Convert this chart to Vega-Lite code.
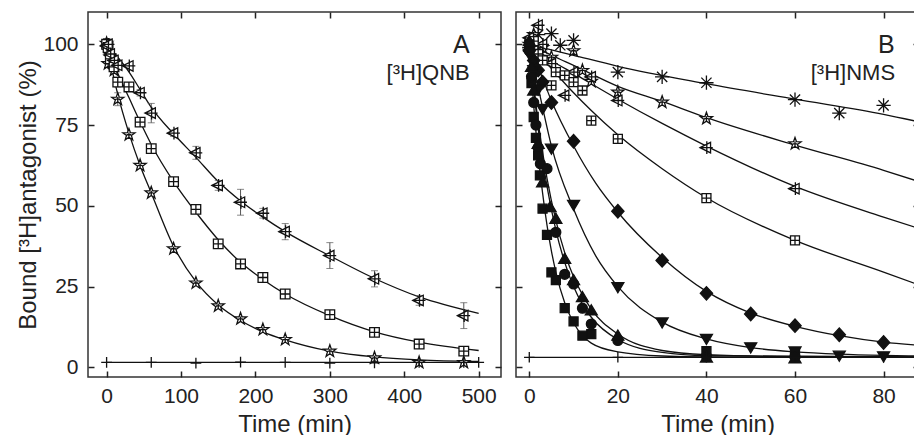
{
  "$schema": "https://vega.github.io/schema/vega-lite/v6.json",
  "padding": {"left": 16, "top": 10, "right": 0, "bottom": 0},
  "spacing": 11,
  "resolve": {"scale": {"shape": "independent", "fill": "independent"}},
  "config": {
    "font": "Liberation Sans",
    "view": {"stroke": "#333", "strokeWidth": 1.5},
    "axis": {"grid": false, "domain": false, "ticks": true, "tickSize": 6, "offset": -6, "tickColor": "#222", "tickWidth": 1.5,
             "labelFont": "Liberation Sans", "labelFontSize": 21, "labelColor": "#222",
             "titleFont": "Liberation Sans", "titleFontSize": 24, "titleFontWeight": "normal", "titleColor": "#222"}
  },
  "datasets": {
    "ptsA": [
      {"s":"star","t":0,"y":100.3,"err":1.5},{"s":"star","t":2,"y":94},{"s":"star","t":5,"y":96},{"s":"star","t":10,"y":92},{"s":"star","t":15,"y":83,"err":2},{"s":"star","t":30,"y":72},{"s":"star","t":45,"y":62.5},{"s":"star","t":60,"y":54},{"s":"star","t":90,"y":36.7},{"s":"star","t":120,"y":26.1},{"s":"star","t":150,"y":19},{"s":"star","t":180,"y":15},{"s":"star","t":210,"y":11.7},{"s":"star","t":240,"y":8.6},{"s":"star","t":300,"y":5},{"s":"star","t":360,"y":2.9},{"s":"star","t":420,"y":1.5},{"s":"star","t":480,"y":1.5},
      {"s":"sq","t":0,"y":100,"err":1.8},{"s":"sq","t":2,"y":99},{"s":"sq","t":5,"y":95.5},{"s":"sq","t":10,"y":93},{"s":"sq","t":15,"y":88.3,"err":1.5},{"s":"sq","t":30,"y":86.8},{"s":"sq","t":45,"y":75.9,"err":1},{"s":"sq","t":60,"y":67.7,"err":1},{"s":"sq","t":90,"y":57.5},{"s":"sq","t":120,"y":48.9},{"s":"sq","t":150,"y":38.2,"err":1},{"s":"sq","t":180,"y":32},{"s":"sq","t":210,"y":27.8},{"s":"sq","t":240,"y":22.7},{"s":"sq","t":300,"y":16.3},{"s":"sq","t":360,"y":10.8},{"s":"sq","t":420,"y":7.2},{"s":"sq","t":480,"y":5},
      {"s":"tri","t":0,"y":99.5,"err":1.5},{"s":"tri","t":2,"y":100},{"s":"tri","t":5,"y":97},{"s":"tri","t":10,"y":95},{"s":"tri","t":15,"y":93.5},{"s":"tri","t":30,"y":93.3},{"s":"tri","t":45,"y":85,"err":1},{"s":"tri","t":60,"y":78.7,"err":3},{"s":"tri","t":90,"y":72.5,"err":1},{"s":"tri","t":120,"y":66.4,"err":2},{"s":"tri","t":150,"y":56.3,"err":1.5},{"s":"tri","t":180,"y":51.1,"err":4},{"s":"tri","t":210,"y":47.7,"err":1.5},{"s":"tri","t":240,"y":42,"err":2.5},{"s":"tri","t":300,"y":34.6,"err":4},{"s":"tri","t":360,"y":27.4,"err":2.5},{"s":"tri","t":420,"y":20.7,"err":1.5},{"s":"tri","t":480,"y":16,"err":4},
      {"s":"plus","t":0,"y":1.5},{"s":"plus","t":60,"y":1.5},{"s":"plus","t":120,"y":1.3},{"s":"plus","t":180,"y":1.6},{"s":"plus","t":240,"y":1.5},{"s":"plus","t":300,"y":1.3},{"s":"plus","t":360,"y":1.4},{"s":"plus","t":420,"y":1.5},{"s":"plus","t":480,"y":1.5},{"s":"plus","t":500,"y":1.5}
    ],
    "fitA": [
      {"s":"star","t":0,"y":100},{"s":"star","t":15,"y":84.5},{"s":"star","t":30,"y":72.5},{"s":"star","t":45,"y":62.5},{"s":"star","t":60,"y":54},{"s":"star","t":90,"y":37.5},{"s":"star","t":120,"y":26.5},{"s":"star","t":150,"y":19.3},{"s":"star","t":180,"y":14.5},{"s":"star","t":210,"y":11},{"s":"star","t":240,"y":8.5},{"s":"star","t":300,"y":5},{"s":"star","t":360,"y":3.2},{"s":"star","t":420,"y":2.3},{"s":"star","t":500,"y":1.8},
      {"s":"sq","t":0,"y":100},{"s":"sq","t":15,"y":91},{"s":"sq","t":30,"y":83.5},{"s":"sq","t":45,"y":76},{"s":"sq","t":60,"y":69},{"s":"sq","t":90,"y":57.5},{"s":"sq","t":120,"y":48},{"s":"sq","t":150,"y":39.5},{"s":"sq","t":180,"y":32.5},{"s":"sq","t":210,"y":27.2},{"s":"sq","t":240,"y":22.7},{"s":"sq","t":300,"y":16},{"s":"sq","t":360,"y":11},{"s":"sq","t":420,"y":7.8},{"s":"sq","t":500,"y":5.2},
      {"s":"tri","t":0,"y":100},{"s":"tri","t":15,"y":96},{"s":"tri","t":30,"y":91.5},{"s":"tri","t":45,"y":86},{"s":"tri","t":60,"y":80.5},{"s":"tri","t":90,"y":72.3},{"s":"tri","t":120,"y":65},{"s":"tri","t":150,"y":57.5},{"s":"tri","t":180,"y":51.5},{"s":"tri","t":210,"y":46.5},{"s":"tri","t":240,"y":42},{"s":"tri","t":300,"y":34.5},{"s":"tri","t":360,"y":27.5},{"s":"tri","t":420,"y":21.8},{"s":"tri","t":500,"y":16.7},
      {"s":"plus","t":0,"y":1.5},{"s":"plus","t":500,"y":1.5}
    ],
    "ptsB": [
      {"s":"ast","t":0,"y":99},{"s":"ast","t":0.5,"y":101},{"s":"ast","t":1,"y":97},{"s":"ast","t":2,"y":103},{"s":"ast","t":5,"y":103.3},{"s":"ast","t":7,"y":99.7},{"s":"ast","t":10,"y":101.2},{"s":"ast","t":20,"y":91.4},{"s":"ast","t":30,"y":89.9},{"s":"ast","t":40,"y":88.1},{"s":"ast","t":60,"y":82.9},{"s":"ast","t":70,"y":78.7},{"s":"ast","t":80,"y":81.1},
      {"s":"star","t":0,"y":100},{"s":"star","t":1,"y":103},{"s":"star","t":2,"y":97},{"s":"star","t":3,"y":99},{"s":"star","t":5,"y":96},{"s":"star","t":10,"y":98},{"s":"star","t":12,"y":91.9},{"s":"star","t":14,"y":88.5},{"s":"star","t":20,"y":85.2},{"s":"star","t":30,"y":82.1},{"s":"star","t":40,"y":77},{"s":"star","t":60,"y":69.2},
      {"s":"tri","t":0,"y":102},{"s":"tri","t":1,"y":98},{"s":"tri","t":2,"y":105.9},{"s":"tri","t":3,"y":100},{"s":"tri","t":5,"y":94},{"s":"tri","t":8,"y":84.2},{"s":"tri","t":10,"y":91.4},{"s":"tri","t":14,"y":89.9},{"s":"tri","t":20,"y":82.6},{"s":"tri","t":40,"y":68},{"s":"tri","t":60,"y":55.3},
      {"s":"sq","t":0,"y":99},{"s":"sq","t":1,"y":101},{"s":"sq","t":2,"y":97},{"s":"sq","t":3,"y":95},{"s":"sq","t":5,"y":87.3},{"s":"sq","t":6,"y":91.4},{"s":"sq","t":8,"y":90.4},{"s":"sq","t":10,"y":88.3},{"s":"sq","t":12,"y":85.7},{"s":"sq","t":14,"y":76.4},{"s":"sq","t":20,"y":70.7},{"s":"sq","t":40,"y":52.4},{"s":"sq","t":60,"y":39.3},
      {"s":"dia","t":0,"y":98},{"s":"dia","t":1,"y":95},{"s":"dia","t":2,"y":92},{"s":"dia","t":3,"y":88.3},{"s":"dia","t":5,"y":82},{"s":"dia","t":10,"y":70},{"s":"dia","t":20,"y":48.3},{"s":"dia","t":30,"y":33.1},{"s":"dia","t":40,"y":22.9},{"s":"dia","t":50,"y":16.5},{"s":"dia","t":60,"y":12.9},{"s":"dia","t":70,"y":10.1},{"s":"dia","t":80,"y":7.7},
      {"s":"down","t":0,"y":97},{"s":"down","t":1,"y":92},{"s":"down","t":2,"y":86},{"s":"down","t":3,"y":80},{"s":"down","t":5,"y":67.7},{"s":"down","t":10,"y":50.3},{"s":"down","t":20,"y":24.8},{"s":"down","t":30,"y":13.9},{"s":"down","t":40,"y":8.8},{"s":"down","t":50,"y":6.2},{"s":"down","t":60,"y":4.9},{"s":"down","t":70,"y":3.6},{"s":"down","t":80,"y":3.4},
      {"s":"fsq","t":0,"y":100},{"s":"fsq","t":0.5,"y":88},{"s":"fsq","t":1,"y":77.5},{"s":"fsq","t":1.5,"y":71},{"s":"fsq","t":2,"y":65.6},{"s":"fsq","t":2.4,"y":59.4},{"s":"fsq","t":3,"y":49.1},{"s":"fsq","t":4,"y":41},{"s":"fsq","t":5,"y":29.4},{"s":"fsq","t":6,"y":27},{"s":"fsq","t":8,"y":18.3},{"s":"fsq","t":10,"y":14.2},{"s":"fsq","t":12,"y":9.8},{"s":"fsq","t":14,"y":10.3},{"s":"fsq","t":40,"y":5},{"s":"fsq","t":60,"y":4.2},
      {"s":"circ","t":0,"y":98},{"s":"circ","t":0.5,"y":90},{"s":"circ","t":1,"y":82},{"s":"circ","t":1.5,"y":75},{"s":"circ","t":2,"y":68},{"s":"circ","t":2.5,"y":63},{"s":"circ","t":4,"y":61.5},{"s":"circ","t":6,"y":41.8},{"s":"circ","t":8,"y":28.8},{"s":"circ","t":10,"y":25.8},{"s":"circ","t":12,"y":18.3},{"s":"circ","t":14,"y":13.4},{"s":"circ","t":20,"y":8.3},{"s":"circ","t":40,"y":3.4},{"s":"circ","t":60,"y":3.3},
      {"s":"up","t":0,"y":101},{"s":"up","t":0.5,"y":93},{"s":"up","t":1,"y":85.7},{"s":"up","t":2,"y":69.2},{"s":"up","t":3,"y":57.3},{"s":"up","t":4.7,"y":49.6},{"s":"up","t":6,"y":46},{"s":"up","t":8,"y":33.6},{"s":"up","t":10,"y":27},{"s":"up","t":12,"y":21.7},{"s":"up","t":14,"y":17.6},{"s":"up","t":20,"y":9.8},{"s":"up","t":40,"y":3},{"s":"up","t":60,"y":2.8},
      {"s":"plus","t":0,"y":3.1},{"s":"plus","t":20,"y":3.1},{"s":"plus","t":40,"y":3.1},{"s":"plus","t":60,"y":3.1},{"s":"plus","t":80,"y":3.1}
    ],
    "fitB": [
      {"s":"ast","t":0,"y":100},{"s":"ast","t":10,"y":96.6},{"s":"ast","t":20,"y":93.2},{"s":"ast","t":40,"y":87.8},{"s":"ast","t":60,"y":83},{"s":"ast","t":80,"y":78.3},{"s":"ast","t":88,"y":76},
      {"s":"star","t":0,"y":100},{"s":"star","t":6,"y":96},{"s":"star","t":10,"y":93.5},{"s":"star","t":20,"y":87},{"s":"star","t":30,"y":82.3},{"s":"star","t":40,"y":77.3},{"s":"star","t":60,"y":68.8},{"s":"star","t":80,"y":61},{"s":"star","t":88,"y":57.5},
      {"s":"tri","t":0,"y":100},{"s":"tri","t":5,"y":95},{"s":"tri","t":10,"y":91},{"s":"tri","t":20,"y":83},{"s":"tri","t":30,"y":75.5},{"s":"tri","t":40,"y":68.5},{"s":"tri","t":60,"y":56},{"s":"tri","t":80,"y":46.5},{"s":"tri","t":88,"y":43},
      {"s":"sq","t":0,"y":100},{"s":"sq","t":5,"y":92.5},{"s":"sq","t":10,"y":85},{"s":"sq","t":14,"y":79.5},{"s":"sq","t":20,"y":72},{"s":"sq","t":30,"y":61.5},{"s":"sq","t":40,"y":52.5},{"s":"sq","t":60,"y":39.3},{"s":"sq","t":80,"y":29.5},{"s":"sq","t":88,"y":25.5},
      {"s":"dia","t":0,"y":100},{"s":"dia","t":3,"y":89.5},{"s":"dia","t":5,"y":82.5},{"s":"dia","t":10,"y":68.5},{"s":"dia","t":15,"y":57},{"s":"dia","t":20,"y":48},{"s":"dia","t":30,"y":34},{"s":"dia","t":40,"y":23.5},{"s":"dia","t":50,"y":16.8},{"s":"dia","t":60,"y":12.7},{"s":"dia","t":70,"y":9.8},{"s":"dia","t":80,"y":7.8},{"s":"dia","t":88,"y":6.8},
      {"s":"down","t":0,"y":100},{"s":"down","t":3,"y":80.5},{"s":"down","t":5,"y":68.5},{"s":"down","t":10,"y":49},{"s":"down","t":15,"y":34.5},{"s":"down","t":20,"y":25},{"s":"down","t":30,"y":14},{"s":"down","t":40,"y":8.8},{"s":"down","t":50,"y":6.1},{"s":"down","t":60,"y":4.8},{"s":"down","t":70,"y":4.1},{"s":"down","t":80,"y":3.7},{"s":"down","t":88,"y":3.5},
      {"s":"fsq","t":0,"y":100},{"s":"fsq","t":1,"y":81},{"s":"fsq","t":2,"y":66},{"s":"fsq","t":3,"y":54},{"s":"fsq","t":4,"y":44},{"s":"fsq","t":5,"y":36},{"s":"fsq","t":6,"y":29.5},{"s":"fsq","t":8,"y":20},{"s":"fsq","t":10,"y":13.8},{"s":"fsq","t":12,"y":9.8},{"s":"fsq","t":14,"y":7.5},{"s":"fsq","t":20,"y":4.8},{"s":"fsq","t":30,"y":3.5},{"s":"fsq","t":40,"y":3.2},{"s":"fsq","t":88,"y":3.1},
      {"s":"circ","t":0,"y":100},{"s":"circ","t":2,"y":74},{"s":"circ","t":4,"y":56},{"s":"circ","t":6,"y":42.5},{"s":"circ","t":8,"y":32.5},{"s":"circ","t":10,"y":25},{"s":"circ","t":12,"y":19.5},{"s":"circ","t":14,"y":15.5},{"s":"circ","t":20,"y":8.6},{"s":"circ","t":30,"y":4.6},{"s":"circ","t":40,"y":3.6},{"s":"circ","t":88,"y":3.2},
      {"s":"up","t":0,"y":100},{"s":"up","t":2,"y":76},{"s":"up","t":4,"y":58.5},{"s":"up","t":6,"y":45.5},{"s":"up","t":8,"y":35.5},{"s":"up","t":10,"y":28},{"s":"up","t":12,"y":22.5},{"s":"up","t":14,"y":18},{"s":"up","t":20,"y":10.3},{"s":"up","t":30,"y":5.2},{"s":"up","t":40,"y":3.9},{"s":"up","t":60,"y":3.3},{"s":"up","t":88,"y":3.2},
      {"s":"plus","t":0,"y":3.1},{"s":"plus","t":88,"y":3.1}
    ]
  },
  "hconcat": [
    {
      "width": 413, "height": 365,
      "resolve": {"axis": {"x": "independent", "y": "independent"}},
      "layer": [
        {
          "data": {"name": "fitA"},
          "mark": {"type": "line", "interpolate": "monotone", "color": "#111", "strokeWidth": 1.3, "clip": true},
          "encoding": {
            "x": {"field": "t", "type": "quantitative", "scale": {"domain": [-25, 530], "nice": false, "zero": false},
                  "axis": {"orient": "bottom", "values": [0,100,200,300,400,500], "title": "Time (min)", "labelPadding": 8, "titlePadding": 6}},
            "y": {"field": "y", "type": "quantitative", "scale": {"domain": [-3, 110], "nice": false, "zero": false},
                  "axis": {"orient": "left", "values": [0,25,50,75,100], "title": "Bound [³H]antagonist (%)", "labelPadding": 10, "titlePadding": 2}},
            "detail": {"field": "s", "type": "nominal"}
          }
        },
        {
          "data": {"name": "ptsA"},
          "transform": [{"filter": "datum.err > 0"}],
          "mark": {"type": "errorbar", "ticks": {"size": 7}, "color": "#555", "thickness": 1},
          "encoding": {
            "x": {"field": "t", "type": "quantitative", "axis": null},
            "y": {"field": "y", "type": "quantitative", "axis": null},
            "yError": {"field": "err"}
          }
        },
        {
          "data": {"name": "ptsA"},
          "mark": {"type": "point", "stroke": "#111", "strokeWidth": 1.3, "opacity": 1, "fillOpacity": 1, "size": 225},
          "encoding": {
            "x": {"field": "t", "type": "quantitative", "axis": {"orient": "top", "values": [0,100,200,300,400,500], "labels": false, "title": null}},
            "y": {"field": "y", "type": "quantitative", "axis": {"orient": "right", "values": [0,25,50,75,100], "labels": false, "title": null}},
            "shape": {"field": "s", "type": "nominal", "legend": null, "scale": {"domain": ["star","sq","tri","plus"], "range": [
              "M0,-0.85L0.2,-0.275L0.808,-0.263L0.323,0.105L0.5,0.688L0,0.34L-0.5,0.688L-0.323,0.105L-0.808,-0.263L-0.2,-0.275Z M0,-0.3V0.3 M-0.3,0H0.3",
              "M-0.64,-0.64H0.64V0.64H-0.64Z M0,-0.64V0.64 M-0.64,0H0.64",
              "M-0.85,0L0.55,-0.7L0.55,0.7Z M0.05,-0.85V0.85 M-0.85,0H0.85",
              "M0,-0.72V0.72 M-0.72,0H0.72"]}},
            "fill": {"field": "s", "type": "nominal", "legend": null, "scale": {"domain": ["star","sq","tri","plus"], "range": ["white","white","white","white"]}}
          }
        },
        {
          "data": {"values": [{}]},
          "mark": {"type": "text", "align": "right", "baseline": "alphabetic", "fontSize": 25, "font": "Liberation Sans", "color": "#222"},
          "encoding": {"x": {"datum": 488, "type": "quantitative", "axis": null}, "y": {"datum": 97.3, "type": "quantitative", "axis": null}, "text": {"value": "A"}}
        },
        {
          "data": {"values": [{}]},
          "mark": {"type": "text", "align": "right", "baseline": "alphabetic", "fontSize": 22, "font": "Liberation Sans", "color": "#222"},
          "encoding": {"x": {"datum": 488, "type": "quantitative", "axis": null}, "y": {"datum": 89, "type": "quantitative", "axis": null}, "text": {"value": "[³H]QNB"}}
        }
      ]
    },
    {
      "width": 403, "height": 365,
      "resolve": {"axis": {"x": "independent", "y": "independent"}},
      "layer": [
        {
          "data": {"name": "fitB"},
          "mark": {"type": "line", "interpolate": "monotone", "color": "#111", "strokeWidth": 1.3, "clip": true},
          "encoding": {
            "x": {"field": "t", "type": "quantitative", "scale": {"domain": [-3, 88], "nice": false, "zero": false},
                  "axis": {"orient": "bottom", "values": [0,20,40,60,80], "title": "Time (min)", "labelPadding": 8, "titlePadding": 6}},
            "y": {"field": "y", "type": "quantitative", "scale": {"domain": [-3, 110], "nice": false, "zero": false},
                  "axis": {"orient": "left", "values": [0,25,50,75,100], "labels": false, "title": null}},
            "detail": {"field": "s", "type": "nominal"}
          }
        },
        {
          "data": {"name": "ptsB"},
          "mark": {"type": "point", "stroke": "#111", "strokeWidth": 1.3, "opacity": 1, "fillOpacity": 1, "size": 225, "clip": true},
          "encoding": {
            "x": {"field": "t", "type": "quantitative", "axis": {"orient": "top", "values": [0,20,40,60,80], "labels": false, "title": null}},
            "y": {"field": "y", "type": "quantitative", "axis": {"orient": "right", "values": [0,25,50,75,100], "labels": false, "title": null}},
            "shape": {"field": "s", "type": "nominal", "legend": null, "scale": {"domain": ["ast","star","tri","sq","dia","down","fsq","circ","up","plus"], "range": [
              "M0,-0.95V0.95 M-0.95,0H0.95 M-0.68,-0.68L0.68,0.68 M-0.68,0.68L0.68,-0.68",
              "M0,-0.85L0.2,-0.275L0.808,-0.263L0.323,0.105L0.5,0.688L0,0.34L-0.5,0.688L-0.323,0.105L-0.808,-0.263L-0.2,-0.275Z M0,-0.3V0.3 M-0.3,0H0.3",
              "M-0.85,0L0.55,-0.7L0.55,0.7Z M0.05,-0.85V0.85 M-0.85,0H0.85",
              "M-0.6,-0.6H0.6V0.6H-0.6Z M0,-0.6V0.6 M-0.6,0H0.6",
              "M0,-0.9L0.82,0L0,0.9L-0.82,0Z",
              "M-0.8,-0.6L0.8,-0.6L0,0.75Z",
              "M-0.6,-0.6H0.6V0.6H-0.6Z",
              "M0.66,0A0.66,0.66,0,1,1,-0.66,0A0.66,0.66,0,1,1,0.66,0Z",
              "M0,-0.75L0.8,0.6L-0.8,0.6Z",
              "M0,-0.7V0.7 M-0.7,0H0.7"]}},
            "fill": {"field": "s", "type": "nominal", "legend": null, "scale": {"domain": ["ast","star","tri","sq","dia","down","fsq","circ","up","plus"], "range": ["white","white","white","white","#111","#111","#111","#111","#111","white"]}}
          }
        },
        {
          "data": {"values": [{}]},
          "mark": {"type": "text", "align": "right", "baseline": "alphabetic", "fontSize": 25, "font": "Liberation Sans", "color": "#222"},
          "encoding": {"x": {"datum": 82.5, "type": "quantitative", "axis": null}, "y": {"datum": 97.3, "type": "quantitative", "axis": null}, "text": {"value": "B"}}
        },
        {
          "data": {"values": [{}]},
          "mark": {"type": "text", "align": "right", "baseline": "alphabetic", "fontSize": 22, "font": "Liberation Sans", "color": "#222"},
          "encoding": {"x": {"datum": 82.6, "type": "quantitative", "axis": null}, "y": {"datum": 89, "type": "quantitative", "axis": null}, "text": {"value": "[³H]NMS"}}
        }
      ]
    }
  ]
}
